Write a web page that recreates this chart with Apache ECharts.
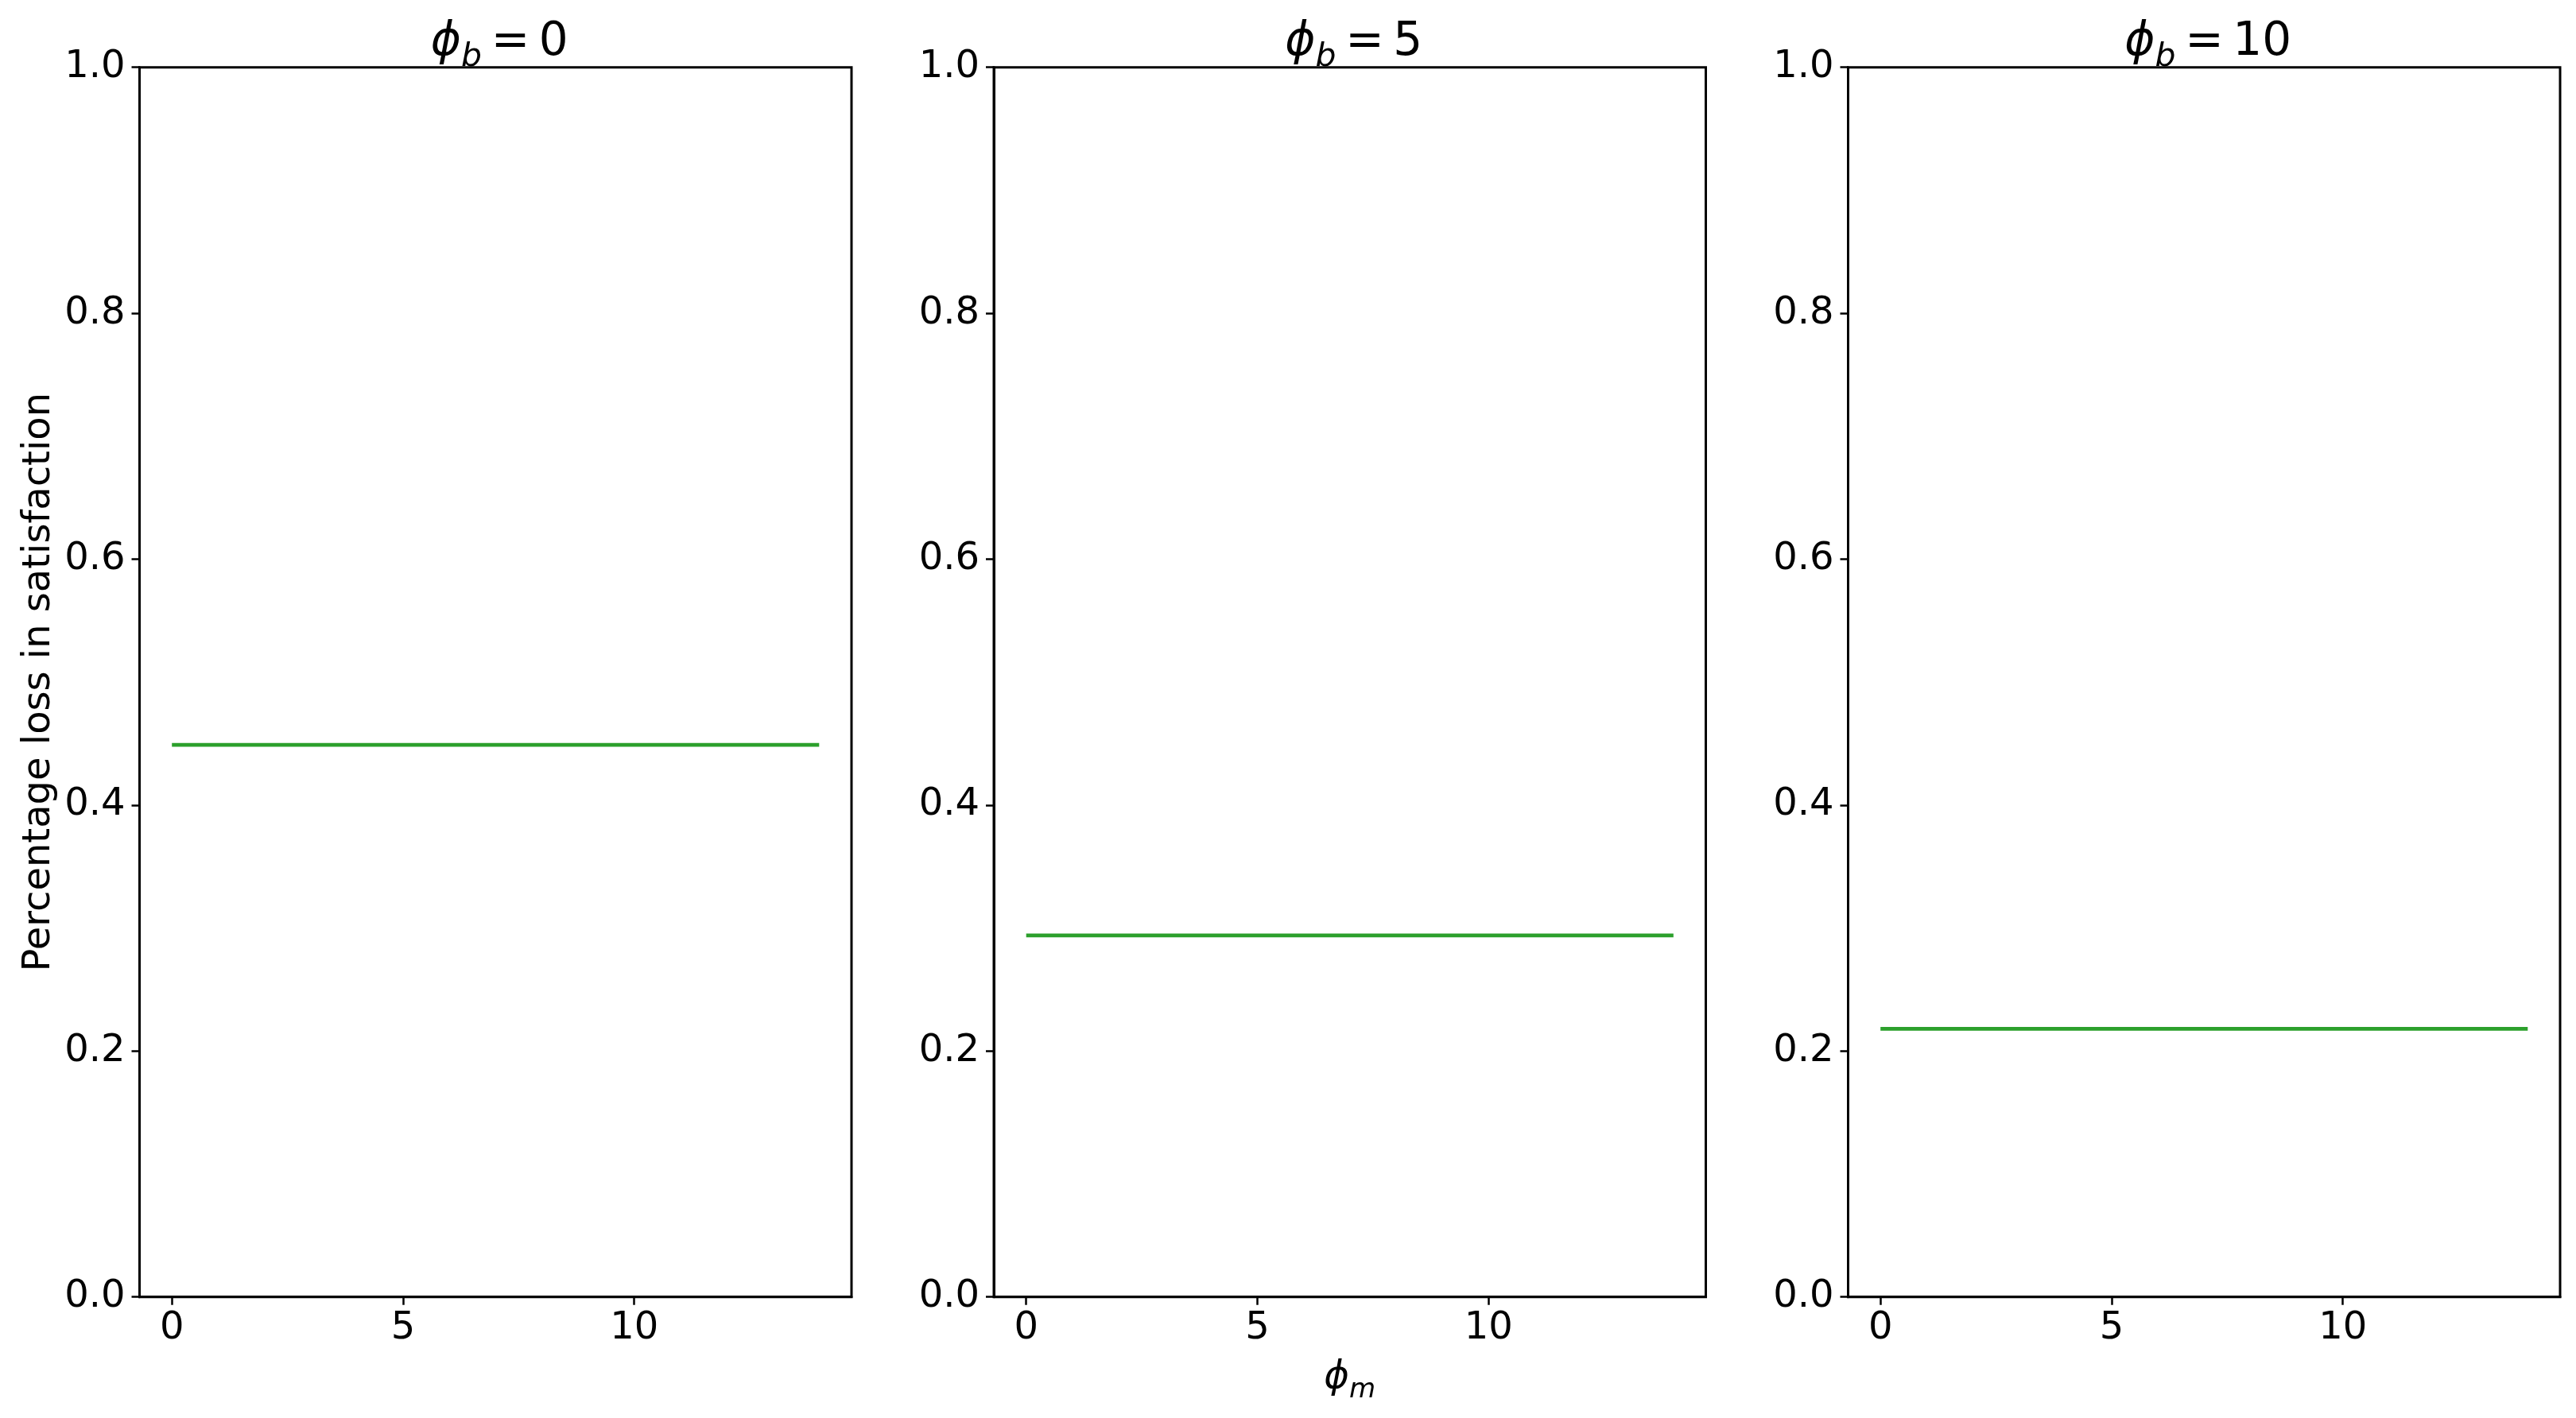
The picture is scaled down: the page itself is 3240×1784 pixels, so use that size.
<!DOCTYPE html>
<html>
<head>
<meta charset="utf-8">
<script src="https://cdn.jsdelivr.net/npm/echarts@6/dist/echarts.min.js"></script>
<style>
html,body{margin:0;padding:0;background:#fff;}
#chart{width:3240px;height:1784px;}
</style>
</head>
<body>
<div id="chart"></div>
<script>
// ---- data ----
const phiM = [0, 1, 2, 3, 4, 5, 6, 7, 8, 9, 10, 11, 12, 13, 14];
const phiBValues = ['0', '5', '10'];
const lossPhiB0  = [0.449, 0.449, 0.449, 0.449, 0.449, 0.449, 0.449, 0.449, 0.449, 0.449, 0.449, 0.449, 0.449, 0.449, 0.449];
const lossPhiB5  = [0.294, 0.294, 0.294, 0.294, 0.294, 0.294, 0.294, 0.294, 0.294, 0.294, 0.294, 0.294, 0.294, 0.294, 0.294];
const lossPhiB10 = [0.218, 0.218, 0.218, 0.218, 0.218, 0.218, 0.218, 0.218, 0.218, 0.218, 0.218, 0.218, 0.218, 0.218, 0.218];
const xTickValues = [0, 5, 10];
const yTickValues = [0.0, 0.2, 0.4, 0.6, 0.8, 1.0];
const yLabel = 'Percentage loss in satisfaction';

const seriesData = [lossPhiB0, lossPhiB5, lossPhiB10];

// ---- layout ----
const FONT = "'DejaVu Sans', sans-serif";
const panelLefts = [175.5, 1250, 2324.5];
const panelWidth = 895.5;
const gridTop = 84.7;
const gridBottom = 1784 - 1631.7;
const GREEN = '#2ca02c';

const grids = [], xAxes = [], yAxes = [], series = [], titles = [];
for (let i = 0; i < 3; i++) {
  grids.push({
    left: panelLefts[i], width: panelWidth, top: gridTop, bottom: gridBottom,
    show: true, borderColor: '#000', borderWidth: 3, backgroundColor: '#fff',
    containLabel: false, outerBoundsMode: 'none'
  });
  const xa = {
    type: 'value', gridIndex: i, min: -0.7, max: 14.7,
    axisLine: { show: true, onZero: false, lineStyle: { color: '#000', width: 3 } },
    axisTick: { show: true, inside: false, length: 10, customValues: xTickValues, lineStyle: { color: '#000', width: 2.5 } },
    axisLabel: { show: true, customValues: xTickValues, margin: 16, color: '#000', fontFamily: FONT, fontSize: 48 },
    splitLine: { show: false }
  };
  if (i === 1) {
    xa.name = '{phi|ϕ}{sub|m}';
    xa.nameLocation = 'middle';
    xa.nameGap = 66;
    xa.nameTextStyle = {
      rich: {
        phi: { fontFamily: FONT, fontStyle: 'italic', fontWeight: 'normal', fontSize: 48, color: '#000', lineHeight: 60, verticalAlign: 'bottom' },
        sub: { fontFamily: FONT, fontStyle: 'italic', fontWeight: 'normal', fontSize: 34, color: '#000', lineHeight: 60, verticalAlign: 'bottom', padding: [0, 0, -8, 0] }
      }
    };
  }
  xAxes.push(xa);
  const ya = {
    type: 'value', gridIndex: i, min: 0, max: 1, interval: 0.2,
    axisLine: { show: true, onZero: false, lineStyle: { color: '#000', width: 3 } },
    axisTick: { show: true, inside: false, length: 10, lineStyle: { color: '#000', width: 2.5 } },
    axisLabel: { show: true, margin: 18, color: '#000', fontFamily: FONT, fontSize: 48,
      padding: [8, 0, 0, 0],
      formatter: v => Number(v).toFixed(1) },
    splitLine: { show: false }
  };
  if (i === 0) {
    ya.name = yLabel;
    ya.nameLocation = 'middle';
    ya.nameRotate = 90;
    ya.nameGap = 102;
    ya.nameTextStyle = { fontFamily: FONT, fontSize: 48, color: '#000' };
  }
  yAxes.push(ya);
  series.push({
    type: 'line', xAxisIndex: i, yAxisIndex: i,
    data: phiM.map((x, k) => [x, seriesData[i][k]]),
    showSymbol: false, symbol: 'none',
    lineStyle: { color: GREEN, width: 4.8 },
    itemStyle: { color: GREEN },
    animation: false
  });
  titles.push({
    text: '{phi|ϕ}{sub|b}{eq|\u2009=\u2009' + phiBValues[i] + '}',
    left: panelLefts[i] + panelWidth / 2,
    textAlign: 'center',
    top: 8,
    textStyle: {
      fontWeight: 'normal',
      rich: {
        phi: { fontFamily: FONT, fontStyle: 'italic', fontWeight: 'normal', fontSize: 58, color: '#000', lineHeight: 70, verticalAlign: 'bottom' },
        sub: { fontFamily: FONT, fontStyle: 'italic', fontWeight: 'normal', fontSize: 41, color: '#000', lineHeight: 70, verticalAlign: 'bottom', padding: [0, 0, -10, 0] },
        eq:  { fontFamily: FONT, fontWeight: 'normal', fontSize: 58, color: '#000', lineHeight: 70, verticalAlign: 'bottom' }
      }
    }
  });
}

const chart = echarts.init(document.getElementById('chart'), null, { renderer: 'canvas' });
chart.setOption({
  backgroundColor: '#fff',
  animation: false,
  title: titles,
  grid: grids,
  xAxis: xAxes,
  yAxis: yAxes,
  series: series
});
</script>
</body>
</html>
